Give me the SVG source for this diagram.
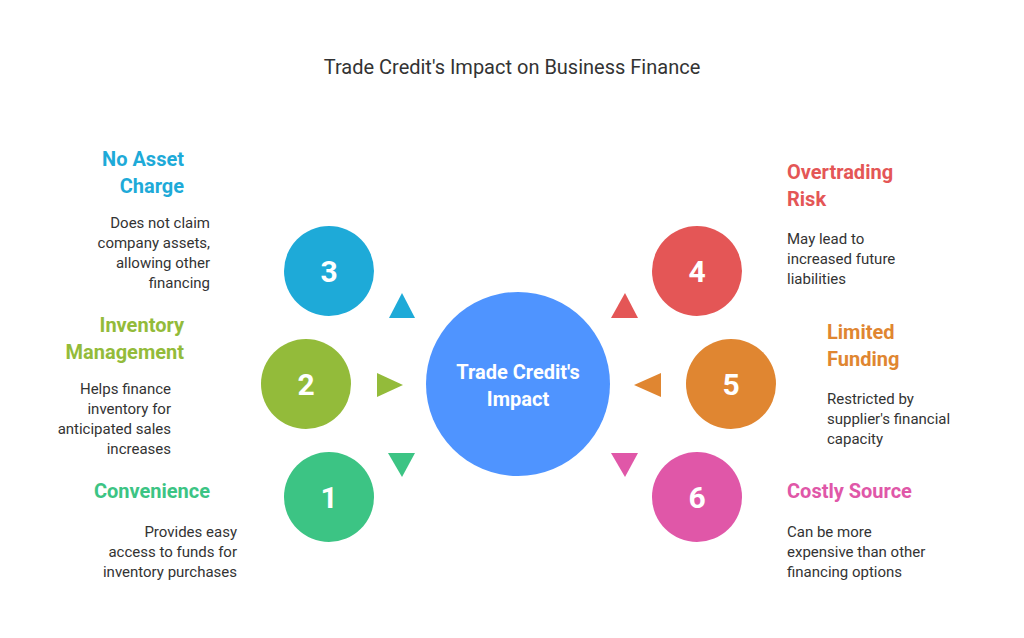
<svg xmlns="http://www.w3.org/2000/svg" width="1024" height="638" viewBox="0 0 1024 638">
<style>
text{font-family:Roboto,"Liberation Sans",sans-serif}
.t{font-size:20px;font-weight:bold}
.d{font-size:15px;fill:#333}
.n{font-size:30px;font-weight:bold;fill:#fff;text-anchor:middle}
.r{text-anchor:end}
</style>
<rect width="1024" height="638" fill="#fff"/>
<text x="512" y="74" text-anchor="middle" font-size="20" fill="#333">Trade Credit's Impact on Business Finance</text>
<g id="connectors">
<polygon points="402,293 389,318 415,318" fill="#1eaad8"/>
<polygon points="377,373 403,385 377,397" fill="#93bb3a"/>
<polygon points="388,453 415,453 402,477" fill="#3cc484"/>
<polygon points="625,293 611,318 638,318" fill="#e45656"/>
<polygon points="661,373 634,385 661,397" fill="#e08631"/>
<polygon points="611,453 638,453 625,477" fill="#e057a8"/>
</g>
<g id="center"><circle cx="518" cy="384" r="92" fill="#4f94ff"/>
<text x="518" y="379" text-anchor="middle" font-size="20" font-weight="bold" fill="#fff">Trade Credit's</text>
<text x="518" y="406" text-anchor="middle" font-size="20" font-weight="bold" fill="#fff">Impact</text></g>
<g id="n3"><circle cx="329" cy="271" r="45" fill="#1eaad8"/><text class="n" x="329" y="282">3</text>
<text class="t r" x="184" y="166" fill="#1eaad8">No Asset</text><text class="t r" x="184" y="193" fill="#1eaad8">Charge</text>
<text class="d r" x="210" y="228">Does not claim</text><text class="d r" x="210" y="248">company assets,</text><text class="d r" x="210" y="268">allowing other</text><text class="d r" x="210" y="288">financing</text></g>
<g id="n2"><circle cx="306" cy="384" r="45" fill="#93bb3a"/><text class="n" x="306" y="395">2</text>
<text class="t r" x="184" y="332" fill="#93bb3a">Inventory</text><text class="t r" x="184" y="359" fill="#93bb3a">Management</text>
<text class="d r" x="171" y="394">Helps finance</text><text class="d r" x="171" y="414">inventory for</text><text class="d r" x="171" y="434">anticipated sales</text><text class="d r" x="171" y="454">increases</text></g>
<g id="n1"><circle cx="329" cy="497" r="45" fill="#3cc484"/><text class="n" x="329" y="508">1</text>
<text class="t r" x="210" y="498" fill="#3cc484">Convenience</text>
<text class="d r" x="237" y="537">Provides easy</text><text class="d r" x="237" y="557">access to funds for</text><text class="d r" x="237" y="577">inventory purchases</text></g>
<g id="n4"><circle cx="697" cy="271" r="45" fill="#e45656"/><text class="n" x="697" y="282">4</text>
<text class="t" x="787" y="179" fill="#e45656">Overtrading</text><text class="t" x="787" y="206" fill="#e45656">Risk</text>
<text class="d" x="787" y="244">May lead to</text><text class="d" x="787" y="264">increased future</text><text class="d" x="787" y="284">liabilities</text></g>
<g id="n5"><circle cx="731" cy="384" r="45" fill="#e08631"/><text class="n" x="731" y="395">5</text>
<text class="t" x="827" y="339" fill="#e08631">Limited</text><text class="t" x="827" y="366" fill="#e08631">Funding</text>
<text class="d" x="827" y="404">Restricted by</text><text class="d" x="827" y="424">supplier's financial</text><text class="d" x="827" y="444">capacity</text></g>
<g id="n6"><circle cx="697" cy="497" r="45" fill="#e057a8"/><text class="n" x="697" y="508">6</text>
<text class="t" x="787" y="498" fill="#e057a8">Costly Source</text>
<text class="d" x="787" y="537">Can be more</text><text class="d" x="787" y="557">expensive than other</text><text class="d" x="787" y="577">financing options</text></g>
</svg>
